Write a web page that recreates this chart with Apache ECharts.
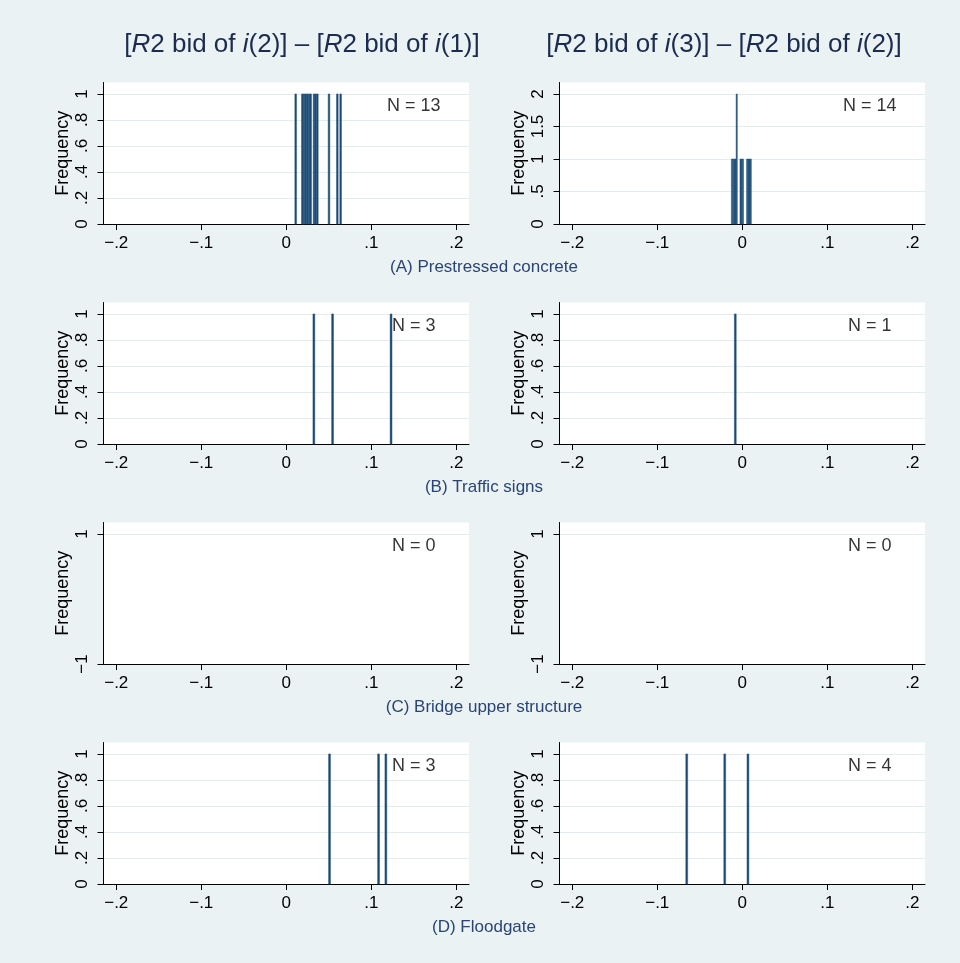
<!DOCTYPE html>
<html><head><meta charset="utf-8">
<script src="https://cdn.jsdelivr.net/npm/echarts@6/dist/echarts.min.js"></script>
<style>html,body{margin:0;padding:0;background:#eaf2f3}#c{width:960px;height:963px}</style>
</head><body><div id="c"></div>
<script>
// ---------- data ----------
const columnTitles = [
  '[{i|R}2 bid of {i|i}(2)] – [{i|R}2 bid of {i|i}(1)]',
  '[{i|R}2 bid of {i|i}(3)] – [{i|R}2 bid of {i|i}(2)]'
];
const rowTitles = ['(A) Prestressed concrete', '(B) Traffic signs', '(C) Bridge upper structure', '(D) Floodgate'];
const xTicks = [-0.2, -0.1, 0, 0.1, 0.2];
const xTickLabels = ['\u2212.2', '\u2212.1', '0', '.1', '.2'];
const freqTicks = [0, 0.2, 0.4, 0.6, 0.8, 1];
const freqTickLabels = ['0', '.2', '.4', '.6', '.8', '1'];
const freq2Ticks = [0, 0.5, 1, 1.5, 2];
const freq2TickLabels = ['0', '.5', '1', '1.5', '2'];
const emptyTicks = [-1, 1];
const emptyTickLabels = ['\u22121', '1'];
const nCounts = [[13, 14], [3, 1], [0, 0], [3, 4]];

// histogram bins (bin centres) and frequencies, per panel
const aLeftBins  = [0.0111, 0.0189, 0.0209, 0.0229, 0.0248, 0.0268, 0.0287, 0.0327, 0.0346, 0.0366, 0.0503, 0.0601, 0.0640];
const aLeftFreq  = [1, 1, 1, 1, 1, 1, 1, 1, 1, 1, 1, 1, 1];
const aRightBins = [-0.0121, -0.0107, -0.0093, -0.0079, -0.0065, -0.0020, -0.0006, 0.0008, 0.0058, 0.0072, 0.0086, 0.0100];
const aRightFreq = [1, 1, 1, 1, 2, 1, 1, 1, 1, 1, 1, 1];
const bLeftBins  = [0.0325, 0.0545, 0.1233];
const bLeftFreq  = [1, 1, 1];
const bRightBins = [-0.0082];
const bRightFreq = [1];
const cLeftBins  = [];
const cLeftFreq  = [];
const cRightBins = [];
const cRightFreq = [];
const dLeftBins  = [0.0509, 0.1086, 0.1172];
const dLeftFreq  = [1, 1, 1];
const dRightBins = [-0.0653, -0.0206, 0.0067];
const dRightFreq = [1, 1, 1];
const binWidths = [[0.00196, 0.0014], [0.0022, 0.0022], [0.0022, 0.0022], [0.0022, 0.0022]];

const panels = [
  [[aLeftBins, aLeftFreq], [aRightBins, aRightFreq]],
  [[bLeftBins, bLeftFreq], [bRightBins, bRightFreq]],
  [[cLeftBins, cLeftFreq], [cRightBins, cRightFreq]],
  [[dLeftBins, dLeftFreq], [dRightBins, dRightFreq]]
];

// ---------- layout / style ----------
const FONT = '"Liberation Sans", Arial, Helvetica, sans-serif';
const BAR = '#1a476f';
const GRIDLINE = '#e4ecef';
const colLeft = [103.5, 559.5];
const plotW = 365.5;
const rowTop = [82.5, 302.5, 522.5, 742.5];
const plotH = 141.5;
const xRange = [-0.215, 0.215];

function yConf(r, c) {
  if (r === 2) return {min: -1, max: 1.177, ticks: emptyTicks, labels: emptyTickLabels, nY: 0.815};
  if (r === 0 && c === 1) return {min: 0, max: 2.177, ticks: freq2Ticks, labels: freq2TickLabels, nY: 1.815};
  return {min: 0, max: 1.088, ticks: freqTicks, labels: freqTickLabels, nY: 0.91};
}
function lookup(ticks, labels) {
  return function (v) {
    for (let k = 0; k < ticks.length; k++) if (Math.abs(ticks[k] - v) < 1e-9) return labels[k];
    return '';
  };
}

const grid = [], xAxis = [], yAxis = [], series = [], title = [];
let gi = 0;
for (let r = 0; r < 4; r++) {
  for (let c = 0; c < 2; c++) {
    const yc = yConf(r, c);
    grid.push({left: colLeft[c], top: rowTop[r], width: plotW, height: plotH,
      show: true, backgroundColor: '#ffffff', borderWidth: 0, containLabel: false, outerBoundsMode: 'none'});
    xAxis.push({
      gridIndex: gi, type: 'value', min: xRange[0], max: xRange[1],
      axisLine: {show: true, onZero: false, lineStyle: {color: '#000', width: 1}},
      axisTick: {show: true, customValues: xTicks, length: 6, lineStyle: {color: '#000'}},
      axisLabel: {show: true, customValues: xTicks, formatter: lookup(xTicks, xTickLabels),
        fontFamily: FONT, fontSize: 17, color: '#000', margin: 11},
      splitLine: {show: false}
    });
    yAxis.push({
      gridIndex: gi, type: 'value', min: yc.min, max: yc.max,
      name: 'Frequency', nameLocation: 'middle', nameGap: 31, nameMoveOverlap: false,
      nameTextStyle: {fontFamily: FONT, fontSize: 18, color: '#000'},
      axisLine: {show: true, onZero: false, lineStyle: {color: '#000', width: 1}},
      axisTick: {show: true, customValues: yc.ticks, length: 6, lineStyle: {color: '#000'}},
      axisLabel: {show: true, customValues: yc.ticks, formatter: lookup(yc.ticks, yc.labels), rotate: 90,
        fontFamily: FONT, fontSize: 17, color: '#000', margin: 13},
      splitLine: {show: true, lineStyle: {color: GRIDLINE, width: 1}}
    });
    const bins = panels[r][c][0], freq = panels[r][c][1];
    const bw = binWidths[r][c];
    series.push({
      type: 'custom', xAxisIndex: gi, yAxisIndex: gi,
      data: bins.map((b, k) => [b, freq[k]]),
      renderItem: function (params, api) {
        const x = api.value(0), h = api.value(1);
        const p0 = api.coord([x - bw / 2, h]);
        const p1 = api.coord([x + bw / 2, 0]);
        return {type: 'rect', shape: {x: p0[0], y: p0[1], width: p1[0] - p0[0], height: p1[1] - p0[1]},
          style: {fill: BAR, stroke: '#2a5a86', lineWidth: 0.5}};
      },
      silent: true, animation: false
    });
    series.push({
      type: 'scatter', xAxisIndex: gi, yAxisIndex: gi, symbolSize: 0,
      data: [[0.15, yc.nY]],
      label: {show: true, position: 'inside', formatter: 'N = ' + nCounts[r][c],
        fontFamily: FONT, fontSize: 18, color: '#000', textBorderWidth: 0, textBorderColor: 'transparent'},
      silent: true, animation: false, z: 5
    });
    gi++;
  }
  title.push({text: rowTitles[r], left: 484, top: rowTop[r] + plotH + 35, textAlign: 'center', padding: 0,
    textStyle: {fontFamily: FONT, fontSize: 17, fontWeight: 'normal', color: '#2a4477'}});
}
const colCenters = [302, 724];
for (let c = 0; c < 2; c++) {
  title.push({text: columnTitles[c], left: colCenters[c], top: 32, textAlign: 'center', padding: 0,
    textStyle: {fontFamily: FONT, fontSize: 26, fontWeight: 'normal', color: '#1c2b50',
      rich: {i: {fontFamily: FONT, fontSize: 26, fontStyle: 'italic', color: '#1c2b50'}}}});
}

const chart = echarts.init(document.getElementById('c'), null, {renderer: 'canvas'});
chart.setOption({
  backgroundColor: '#eaf2f3',
  animation: false,
  title: title, grid: grid, xAxis: xAxis, yAxis: yAxis, series: series
});
</script>
</body></html>
